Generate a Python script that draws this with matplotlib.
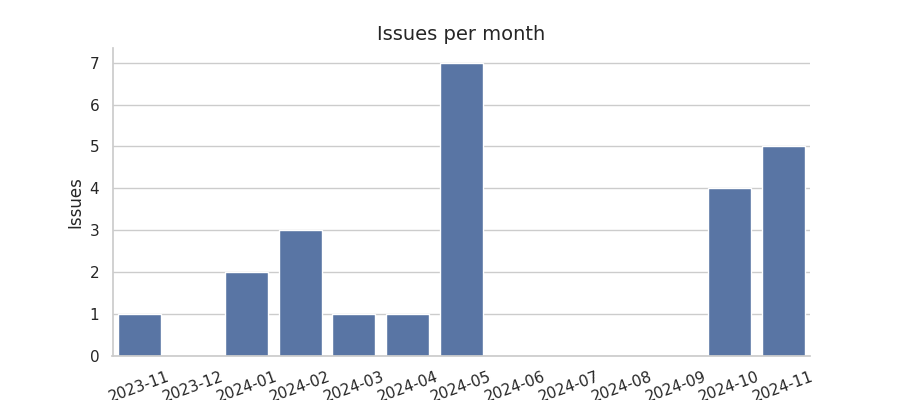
import matplotlib
matplotlib.use("Agg")
import matplotlib.pyplot as plt
import seaborn as sns
import pandas as pd

months = ["2023-11", "2023-12", "2024-01", "2024-02", "2024-03", "2024-04", "2024-05",
          "2024-06", "2024-07", "2024-08", "2024-09", "2024-10", "2024-11"]
issues = [1, 0, 2, 3, 1, 1, 7, 0, 0, 0, 0, 4, 5]

sns.set_theme(style="whitegrid")
df = pd.DataFrame({"month": months, "issues": issues})

fig, ax = plt.subplots(figsize=(9, 4))
sns.barplot(data=df, x="month", y="issues", color="#4c72b0", ax=ax)
ax.set_title("Issues per month", fontsize=14)
ax.set_xlabel("")
ax.set_ylabel("Issues")
ax.tick_params(axis="x", rotation=20)
sns.despine(ax=ax)
fig.savefig("out.png", dpi=100)
